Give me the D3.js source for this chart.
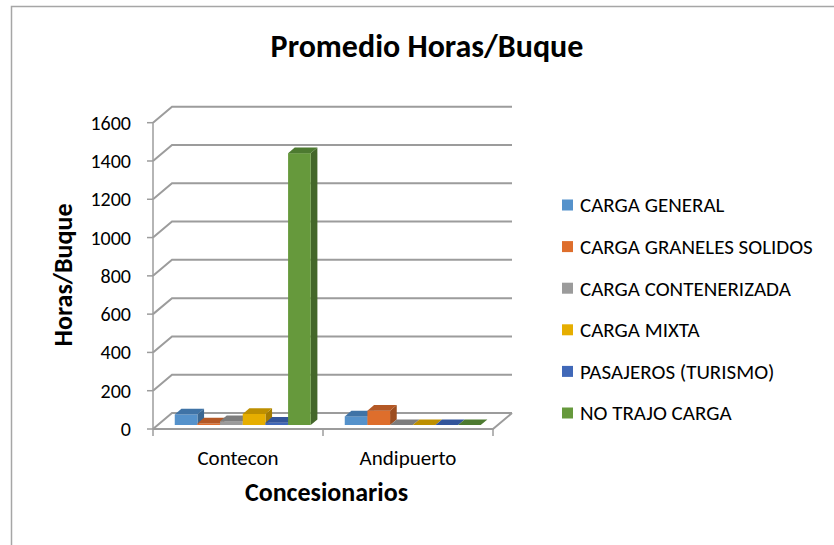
<!DOCTYPE html>
<html>
<head>
<meta charset="utf-8">
<script src="https://cdn.jsdelivr.net/npm/d3@7"></script>
<style>
  body { margin: 0; background: #fff; }
  svg text { font-family: Carlito, Calibri, Lato, sans-serif; fill: #000; }
</style>
</head>
<body>
<svg id="chart" width="834" height="545"></svg>
<script>
// chart data
var categories = ["Contecon", "Andipuerto"];
var seriesNames = ["CARGA GENERAL", "CARGA GRANELES SOLIDOS", "CARGA CONTENERIZADA",
                   "CARGA MIXTA", "PASAJEROS (TURISMO)", "NO TRAJO CARGA"];
var cargaGeneral = [55, 45];
var granelesSolidos = [8, 75];
var contenerizada = [20, 0];
var mixta = [58, 0];
var pasajeros = [12, 0];
var noTrajoCarga = [1420, 0];
var yTicks = [0, 200, 400, 600, 800, 1000, 1200, 1400, 1600];

var seriesValues = [cargaGeneral, granelesSolidos, contenerizada, mixta, pasajeros, noTrajoCarga];
// front, side, top colours for each series
var colors = [
  ["#5592cb", "#3b6791", "#3f73a6"],
  ["#de6e2c", "#9c4d1f", "#b45825"],
  ["#9b9b9b", "#6e6e6e", "#7d7d7d"],
  ["#e6ae00", "#a47c00", "#bd8f00"],
  ["#4068b8", "#2d4a83", "#33559a"],
  ["#66993c", "#44672a", "#4d7a30"]
];

var svg = d3.select("#chart");

// chart border
svg.append("path")
  .attr("d", "M11.5,545 V6.5 H834")
  .attr("fill", "none")
  .attr("stroke", "#a6a6a6")
  .attr("stroke-width", 1.5);

// plot geometry (front plane)
var x0 = 153, x1 = 493, yBase = 429, yTop = 122.7;
var dx = 19, dy = -16;          // depth of the box
var fz = 0.25, bz = 0.6;        // bar front/back depth fraction

var y = d3.scaleLinear().domain([0, 1600]).range([yBase, yTop]);
var xCat = d3.scaleBand().domain(categories).range([x0, x1]);
var xSer = d3.scaleBand().domain(d3.range(seriesNames.length))
  .range([0, xCat.bandwidth()]).paddingInner(0).paddingOuter(0.75);

var gridColor = "#9c9c9c";

// side wall + back wall gridlines
var grid = svg.append("g");
yTicks.forEach(function(t) {
  grid.append("path")
    .attr("d", "M" + x0 + "," + y(t) + " L" + (x0 + dx) + "," + (y(t) + dy) + " H" + (x1 + dx))
    .attr("fill", "none")
    .attr("stroke", gridColor)
    .attr("stroke-width", 2);
});

// floor front edge
grid.append("path")
  .attr("d", "M" + x0 + "," + yBase + " H" + x1 + " L" + (x1 + dx) + "," + (yBase + dy))
  .attr("fill", "none")
  .attr("stroke", gridColor)
  .attr("stroke-width", 2);

// y axis
var yAxis = svg.append("g");
yAxis.append("line")
  .attr("x1", x0).attr("x2", x0)
  .attr("y1", yTop).attr("y2", yBase)
  .attr("stroke", gridColor).attr("stroke-width", 1.5);
yTicks.forEach(function(t) {
  yAxis.append("line")
    .attr("x1", x0 - 6).attr("x2", x0)
    .attr("y1", y(t)).attr("y2", y(t))
    .attr("stroke", gridColor).attr("stroke-width", 1.5);
  yAxis.append("text")
    .attr("x", 131)
    .attr("y", y(t))
    .attr("dy", "0.35em")
    .attr("text-anchor", "end")
    .style("font-size", "20px")
    .text(t);
});

// x axis ticks and labels
var xTickPos = [x0].concat(categories.map(function(c) { return xCat(c) + xCat.bandwidth(); }));
xTickPos.forEach(function(p) {
  svg.append("line")
    .attr("x1", p).attr("x2", p)
    .attr("y1", yBase).attr("y2", yBase + 7)
    .attr("stroke", gridColor).attr("stroke-width", 1.5);
});
categories.forEach(function(c) {
  svg.append("text")
    .attr("x", xCat(c) + xCat.bandwidth() / 2)
    .attr("y", 465)
    .attr("text-anchor", "middle")
    .style("font-size", "21px")
    .text(c);
});

// bars
var fdx = dx * fz, fdy = dy * fz;
var bdx = dx * bz, bdy = dy * bz;
var bars = svg.append("g");
categories.forEach(function(c, ci) {
  seriesValues.forEach(function(vals, si) {
    var left = xCat(c) + xSer(si) + fdx;
    var right = left + xSer.bandwidth();
    var bottom = yBase + fdy;
    var top = y(vals[ci]) + fdy;
    var ddx = bdx - fdx, ddy = bdy - fdy;
    var col = colors[si];
    // side face
    bars.append("path")
      .attr("d", "M" + right + "," + bottom + " L" + (right + ddx) + "," + (bottom + ddy) +
                 " L" + (right + ddx) + "," + (top + ddy) + " L" + right + "," + top + "Z")
      .attr("fill", col[1]);
    // front face
    bars.append("rect")
      .attr("x", left).attr("y", top)
      .attr("width", right - left).attr("height", bottom - top)
      .attr("fill", col[0]);
    // top face
    bars.append("path")
      .attr("d", "M" + left + "," + top + " L" + (left + ddx) + "," + (top + ddy) +
                 " L" + (right + ddx) + "," + (top + ddy) + " L" + right + "," + top + "Z")
      .attr("fill", col[2]);
  });
});

// titles
svg.append("text")
  .attr("x", 427).attr("y", 57)
  .attr("text-anchor", "middle")
  .style("font-size", "32px").style("font-weight", "bold")
  .text("Promedio Horas/Buque");

svg.append("text")
  .attr("transform", "translate(72,275) rotate(-90)")
  .attr("text-anchor", "middle")
  .style("font-size", "26px").style("font-weight", "bold")
  .text("Horas/Buque");

svg.append("text")
  .attr("x", 326.5).attr("y", 501)
  .attr("text-anchor", "middle")
  .style("font-size", "26px").style("font-weight", "bold")
  .text("Concesionarios");

// legend
var legend = svg.append("g");
seriesNames.forEach(function(name, i) {
  var cy = 205 + i * 41.6;
  legend.append("rect")
    .attr("x", 562).attr("y", cy - 5.5)
    .attr("width", 11).attr("height", 11)
    .attr("fill", colors[i][0]);
  legend.append("text")
    .attr("x", 580).attr("y", cy)
    .attr("dy", "0.35em")
    .style("font-size", "21px")
    .text(name);
});
</script>
</body>
</html>
